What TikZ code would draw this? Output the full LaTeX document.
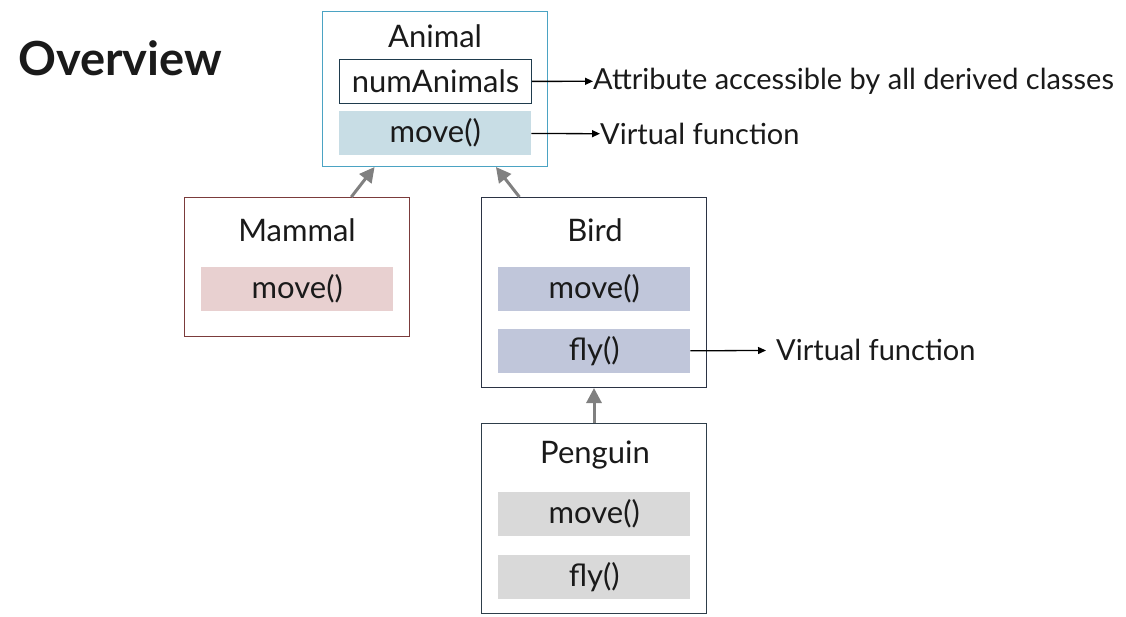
\documentclass[tikz,border=0pt]{standalone}
\usepackage{fontspec}
\setmainfont{Lato}
\usetikzlibrary{arrows.meta,positioning}
\definecolor{animalc}{HTML}{4BA3C3}
\definecolor{animalf}{HTML}{C8DDE5}
\definecolor{mammalc}{HTML}{7B3B3B}
\definecolor{mammalf}{HTML}{E8D0D0}
\definecolor{birdc}{HTML}{2B3344}
\definecolor{birdf}{HTML}{C0C6DA}
\definecolor{penguinc}{HTML}{2E3E4A}
\definecolor{penguinf}{HTML}{D9D9D9}
\definecolor{attrc}{HTML}{1F3B4D}
\definecolor{txt}{HTML}{1A1A1A}

\begin{document}
\begin{tikzpicture}[x=1pt,y=-1pt,every node/.style={text=txt,font=\fontsize{31}{35}\selectfont},
cls/.style={draw,line width=1pt,anchor=north west,minimum width=225pt,inner sep=0pt},
member/.style={anchor=north west,minimum width=192pt,minimum height=44pt,inner sep=0pt},
note/.style={anchor=west,inner sep=0pt,font=\fontsize{29}{33}\selectfont},
inh/.style={draw=gray,line width=3pt,-{Triangle[length=15pt,width=15pt]}},
ann/.style={line width=1.3pt,-{Triangle[length=8pt,width=7pt]}}]
\useasboundingbox (0,0) rectangle (1126,616);
\node(T)[anchor=west,inner sep=0pt,font=\fontsize{47}{51}\selectfont\bfseries] at (18,58) {Overview};
% classes
\node(A)[cls,draw=animalc,minimum height=155pt] at (322,11) {};
\node(M)[cls,draw=mammalc,minimum height=139pt] at (184,197) {};
\node(B)[cls,draw=birdc,minimum height=190pt] at (481,197) {};
\node(P)[cls,draw=penguinc,minimum height=190pt] at (481,423) {};
\node(At) at (435,36) {Animal};
\node(Mt) at (297,230) {Mammal};
\node(Bt) at (595,230) {Bird};
\node(Pt) at (595,455) {Penguin};
% members
\node(An)[member,draw=attrc,line width=1pt] at (339,59) {numAnimals};
\node(Am)[member,fill=animalf] at (339,111) {move()};
\node(Mm)[member,fill=mammalf] at (201,267) {move()};
\node(Bm)[member,fill=birdf] at (498,267) {move()};
\node(Bf)[member,fill=birdf] at (498,329) {fly()};
\node(Pm)[member,fill=penguinf] at (498,492) {move()};
\node(Pf)[member,fill=penguinf] at (498,555) {fly()};
% notes
\node(N1)[note] at (593,81) {Attribute accessible by all derived classes};
\node(N2)[note] at (600,134) {Virtual function};
\node(N3)[note] at (776,350) {Virtual function};
\draw[ann](An)--(N1);
\draw[ann](Am)--(N2);
\draw[ann,shorten >=10pt](Bf)--(N3);
\draw[inh](M)--(A);
\draw[inh](B)--(A);
\draw[inh](P)--(B);
\end{tikzpicture}
\end{document}
